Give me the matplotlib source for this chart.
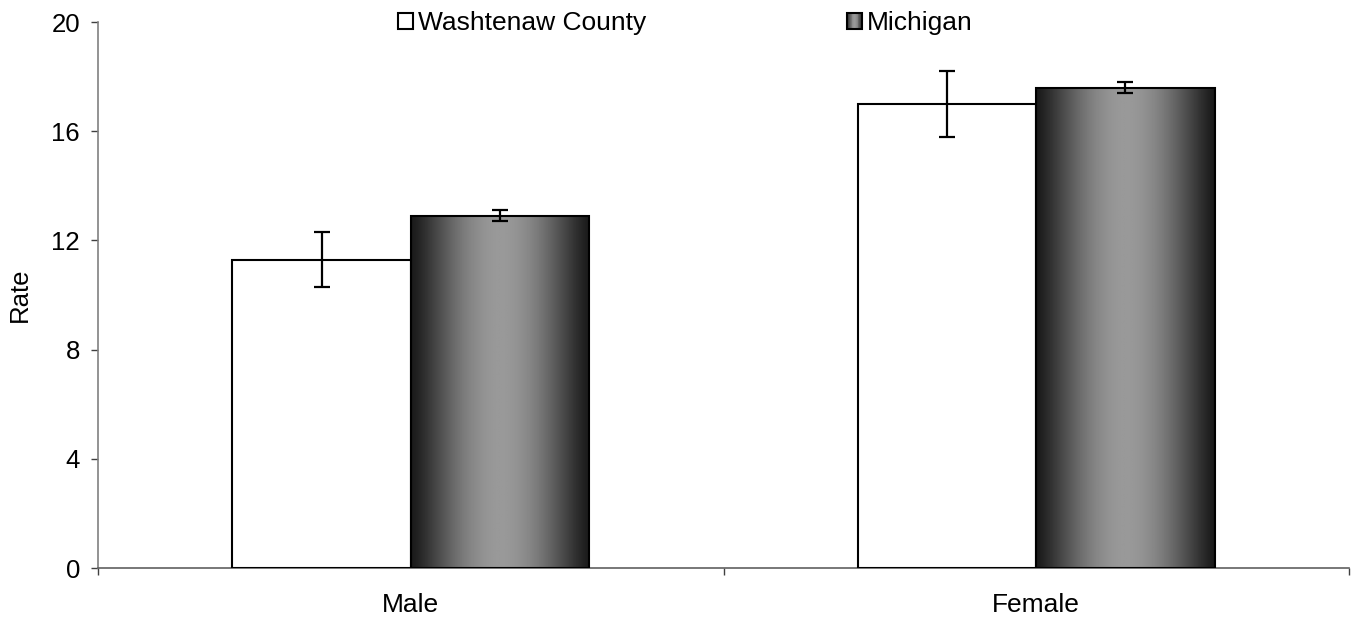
import numpy as np
import matplotlib
matplotlib.use('Agg')
import matplotlib.pyplot as plt
from matplotlib.patches import Rectangle
from matplotlib.legend_handler import HandlerBase

plt.rcParams['font.family'] = ['Liberation Sans', 'DejaVu Sans']

# Data
categories = ['Male', 'Female']
series_names = ['Washtenaw County', 'Michigan']
washtenaw = [11.3, 17.0]
washtenaw_err = [1.0, 1.2]
michigan = [12.9, 17.6]
michigan_err = [0.2, 0.2]
y_ticks = [0, 4, 8, 12, 16, 20]

BAR_W = 0.285

# gradient profile for Michigan bars: dark edges, light middle
grad_x = np.linspace(0, 1, 256)
grad_vals = 0.10 + 0.50 * np.sin(np.pi * grad_x) ** 1.2
grad_img = np.vstack([grad_vals, grad_vals])


class GradientHandler(HandlerBase):
    def create_artists(self, legend, orig_handle, xdescent, ydescent,
                       width, height, fontsize, trans):
        arts = []
        n = 20
        for i in range(n):
            v = 0.10 + 0.50 * np.sin(np.pi * (i + 0.5) / n) ** 1.2
            r = Rectangle((-xdescent + width * i / n, -ydescent), width / n, height,
                          facecolor=(v, v, v), edgecolor='none', transform=trans)
            arts.append(r)
        border = Rectangle((-xdescent, -ydescent), width, height, facecolor='none',
                           edgecolor='black', linewidth=1.5, transform=trans)
        arts.append(border)
        return arts


fig = plt.figure(figsize=(13.52, 6.18), dpi=100)
ax = fig.add_axes([98 / 1352, 1 - 568 / 618, 1251 / 1352, 546 / 618])

x = np.arange(len(categories))

# Washtenaw bars (white)
ax.bar(x - BAR_W / 2, washtenaw, BAR_W, color='white', edgecolor='black',
       linewidth=1.5, zorder=3)
ax.errorbar(x - BAR_W / 2, washtenaw, yerr=washtenaw_err, fmt='none',
            ecolor='black', elinewidth=1.6, capsize=5.5, capthick=1.6, zorder=5)

# Michigan bars (gradient)
mich_bars = ax.bar(x + BAR_W / 2, michigan, BAR_W, facecolor='none',
                   edgecolor='black', linewidth=1.5, zorder=4)
for b in mich_bars:
    x0, w, h = b.get_x(), b.get_width(), b.get_height()
    ax.imshow(grad_img, cmap='gray', vmin=0, vmax=1, aspect='auto',
              extent=(x0, x0 + w, 0, h), interpolation='bilinear', zorder=3)
ax.errorbar(x + BAR_W / 2, michigan, yerr=michigan_err, fmt='none',
            ecolor='black', elinewidth=1.6, capsize=5.5, capthick=1.6, zorder=5)

ax.set_xlim(-0.5, len(categories) - 0.5)
ax.set_ylim(0, 20)
ax.set_yticks(y_ticks)
ax.set_yticklabels([str(t) for t in y_ticks], fontsize=18.5)
ax.set_ylabel('Rate', fontsize=18.5, labelpad=14)

ax.set_xticks(x)
ax.set_xticklabels(categories, fontsize=19)
ax.set_xticks(np.arange(-0.5, len(categories)), minor=True)
ax.tick_params(axis='x', which='major', length=0, pad=18)
ax.tick_params(axis='x', which='minor', length=5, width=1, color='#404040')
ax.tick_params(axis='y', length=5, width=1, color='#404040', pad=8)

for s in ['top', 'right']:
    ax.spines[s].set_visible(False)
ax.spines['left'].set_color('#808080')
ax.spines['bottom'].set_color('#606060')
ax.spines['left'].set_linewidth(1.2)
ax.spines['bottom'].set_linewidth(1.2)

# Legend
h_w = Rectangle((0, 0), 1, 1, facecolor='white', edgecolor='black', linewidth=1.5)
h_m = Rectangle((0, 0), 1, 1)
fig.legend([h_w, h_m], series_names, loc='upper center',
           bbox_to_anchor=(0.507, 1.02), ncol=2, frameon=False, fontsize=19,
           handlelength=0.57, handleheight=0.57, handletextpad=0.2,
           columnspacing=7.6, handler_map={h_m: GradientHandler()})

fig.savefig('out.png', dpi=100)
